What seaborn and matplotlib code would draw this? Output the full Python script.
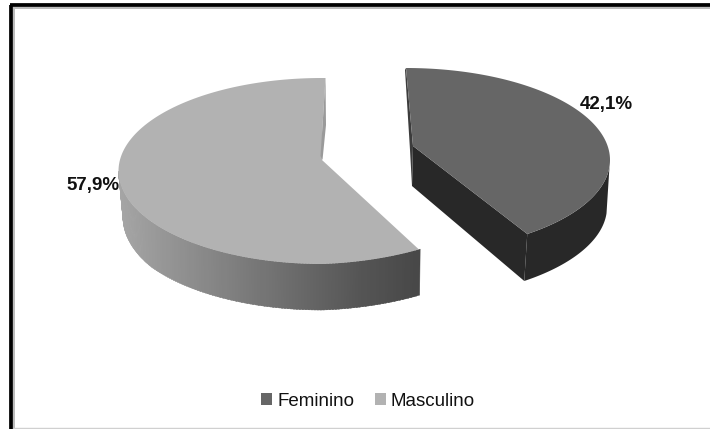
import numpy as np
import matplotlib
matplotlib.use("Agg")
import matplotlib.pyplot as plt
from matplotlib.patches import Patch
import seaborn as sns

categories = ["Feminino", "Masculino"]
shares = [42.1, 57.9]
value_labels = ["42,1%", "57,9%"]
top_colors = ["#666666", "#b2b2b2"]

sns.set_theme(style="white")
plt.rcParams["font.family"] = ["Liberation Sans", "DejaVu Sans"]
palette = sns.color_palette(top_colors)

fig = plt.figure(figsize=(7.1, 4.29), dpi=100)
ax = fig.add_axes([0, 0, 1, 1])
ax.set_xlim(0, 710)
ax.set_ylim(429, 0)
ax.axis("off")


def rim(theta_deg, cx, cy, rx, ry, lift=0.0):
    t = np.radians(theta_deg)
    c = np.cos(t)
    return cx + rx * c, cy - ry * np.sin(t) - lift * np.maximum(c, 0)


# ---- Masculino: sweeps counter-clockwise from 12 o'clock
m_sweep = shares[1] / 100 * 360
m_geo = dict(cx=322, cy=171, rx=203.5, ry=93, lift=7)
m_end = 90 + m_sweep
depth_m = 46

# outer side, with gradient
gx = [118, 355, 420]
gv = [0.65, 0.34, 0.28]
steps = np.linspace(180, m_end, 140)
for a, b in zip(steps[:-1], steps[1:]):
    th = np.linspace(a, b + 0.4, 3)
    x, y = rim(th, **m_geo)
    # the lower rim sits a little inside the upper one at the far left
    shift = np.interp(x, [118, 150, 418], [4.5, 1.0, -0.5])
    xs = np.r_[x, x[::-1] + shift[::-1]]
    ys = np.r_[y, y[::-1] + depth_m]
    ax.fill(xs, ys, color=str(float(np.interp(x.mean(), gx, gv))), lw=0.3)

th = np.linspace(90, m_end, 200)
x, y = rim(th, **m_geo)
ax.fill(np.r_[x, 322], np.r_[y, 160], color=palette[1], lw=0)
# top corner and sliver of the inner cut face
ax.fill([320, 325.5, 323.5, 320.5], [78, 78, 110, 156], color=palette[1], lw=0)
ax.fill([325.5, 326, 322.5, 320.5, 323.5], [78, 125, 160, 156, 110], color="#9a9a9a", lw=0)

# ---- Feminino: sweeps clockwise from 12 o'clock (exploded)
f_sweep = shares[0] / 100 * 360 * 0.947
f_geo = dict(cx=406, cy=160, rx=204, ry=92)
f_end = 90 - f_sweep
dark = "#282828"
apex = (413, 146)
cx_end, cy_end = rim(f_end, **f_geo)

th = np.linspace(-4, f_end, 80)
x, y = rim(th, **f_geo)
ax.fill(np.r_[x, x[::-1] - 3], np.r_[y, y[::-1] + 47], color=dark, lw=0)
# inner cut faces
ax.fill([apex[0], cx_end, cx_end - 3, 412], [apex[1], cy_end, cy_end + 47, 186], color=dark, lw=0)
ax.fill([406, 413, 412, 410, 405], [68, 146, 186, 150, 70], color="#3c3c3c", lw=0)

th = np.linspace(90, f_end, 200)
x, y = rim(th, **f_geo)
ax.fill(np.r_[x, apex[0]], np.r_[y, apex[1]], color=palette[0], lw=0)

# ---- labels
ax.text(606.5, 105, value_labels[0], fontsize=13.5, fontweight="bold", color="#111111", ha="center", va="center")
ax.text(93.5, 185.5, value_labels[1], fontsize=13.5, fontweight="bold", color="#111111", ha="center", va="center")

# ---- legend
handles = [Patch(facecolor=palette[i], edgecolor="none", label=categories[i]) for i in range(2)]
ax.legend(handles=handles, loc="center", bbox_to_anchor=(368, 401), bbox_transform=ax.transData,
          ncol=2, frameon=False, fontsize=13.5, handlelength=0.59, handleheight=0.59,
          handletextpad=0.26, columnspacing=1.1, labelcolor="#111111")

# ---- picture frame
ax.plot([11.2, 11.2], [429, 4.5], color="black", lw=2.7, solid_capstyle="butt")
ax.plot([9.5, 710], [4.5, 4.5], color="black", lw=2.7, solid_capstyle="butt")
ax.plot([14, 14], [429, 7], color="#bbbbbb", lw=1.4, solid_capstyle="butt")
ax.plot([13, 710], [7.6, 7.6], color="#bbbbbb", lw=1.4, solid_capstyle="butt")
ax.plot([13, 710], [428.3, 428.3], color="#d0d0d0", lw=1, solid_capstyle="butt")

fig.savefig("out.png", dpi=100, facecolor="white")
